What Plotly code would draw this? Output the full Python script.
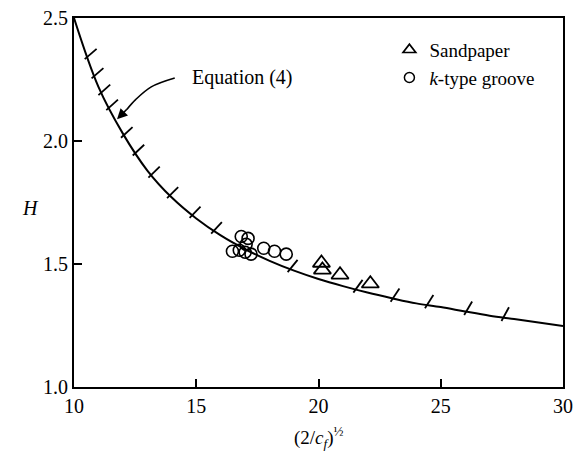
import numpy as np
import plotly.graph_objects as go

# Equation (4) curve
curve_x = [10, 11, 12, 13, 14, 15, 16, 17, 18, 19, 20, 21, 22, 23, 24, 25, 26, 27, 28, 29, 30]
curve_H = [2.50, 2.22, 2.03, 1.88, 1.77, 1.685, 1.616, 1.56, 1.513, 1.473, 1.439,
           1.41, 1.384, 1.361, 1.34, 1.325, 1.307, 1.29, 1.276, 1.262, 1.248]

# hatch marks along the curve (x positions)
hatch_x = [10.56, 10.84, 11.12, 11.44, 12.04, 12.52, 13.16, 13.92, 14.84, 15.72,
           18.84, 21.52, 23.04, 24.44, 26.04, 27.56]

# Sandpaper (triangles)
sand_x = [20.12, 20.16, 20.88, 22.12]
sand_H = [1.504, 1.476, 1.456, 1.420]

# k-type groove (circles)
groove_x = [16.84, 17.12, 17.04, 16.48, 16.76, 17.00, 17.24, 17.76, 18.20, 18.68]
groove_H = [1.612, 1.604, 1.580, 1.552, 1.556, 1.548, 1.540, 1.564, 1.552, 1.540]

x_ticks = [10, 15, 20, 25, 30]
y_ticks = [1.0, 1.5, 2.0, 2.5]

W, Hh = 580, 458
L, R, T, B = 74, 7, 12, 71
pw, ph = W - L - R, Hh - T - B
xr, yr = [10, 30], [1.0, 2.5]
sx = pw / (xr[1] - xr[0])
sy = ph / (yr[1] - yr[0])

FONT = "Liberation Serif"
FS = 20
fig = go.Figure()

fig.add_trace(go.Scatter(x=curve_x, y=curve_H, mode="lines",
                         line=dict(color="black", width=2, shape="spline"),
                         showlegend=False, hoverinfo="skip"))

# hatches
hx, hy = [], []
for x0 in hatch_x:
    y0 = float(np.interp(x0, curve_x, curve_H))
    ang = np.radians(np.interp(x0, [10, 28], [40, 62]))
    Lpx = 16
    back = 0.25
    dxp, dyp = np.cos(ang) * Lpx, np.sin(ang) * Lpx
    hx += [x0 - back * dxp / sx, x0 + (1 - back) * dxp / sx, None]
    hy += [y0 - back * dyp / sy, y0 + (1 - back) * dyp / sy, None]
fig.add_trace(go.Scatter(x=hx, y=hy, mode="lines", line=dict(color="black", width=1.8),
                         showlegend=False, hoverinfo="skip"))

fig.add_trace(go.Scatter(x=groove_x, y=groove_H, mode="markers",
                         marker=dict(symbol="circle-open", size=12, color="black",
                                     line=dict(width=1.6)),
                         showlegend=False))
fig.add_trace(go.Scatter(x=sand_x, y=sand_H, mode="markers",
                         marker=dict(symbol="triangle-up-open", size=15, color="black",
                                     line=dict(width=1.8)),
                         showlegend=False))

# legend entries
fig.add_trace(go.Scatter(x=[None], y=[None], mode="markers", name="Sandpaper",
                         marker=dict(symbol="triangle-up-open", size=11, color="black",
                                     line=dict(width=1.7))))
fig.add_trace(go.Scatter(x=[None], y=[None], mode="markers", name="<i>k</i>-type groove",
                         marker=dict(symbol="circle-open", size=10, color="black",
                                     line=dict(width=1.5))))

# curved arrow pointing at the curve
arr_x = [14.12, 13.16, 12.52, 12.16]
arr_y = [2.256, 2.22, 2.168, 2.128]
fig.add_trace(go.Scatter(x=arr_x, y=arr_y, mode="lines",
                         line=dict(color="black", width=1.6, shape="spline"),
                         showlegend=False, hoverinfo="skip"))
fig.add_annotation(x=11.76, y=2.088, ax=12.22, ay=2.135, xref="x", yref="y",
                   axref="x", ayref="y", text="", showarrow=True, arrowhead=2,
                   arrowsize=1.3, arrowwidth=1.6, arrowcolor="black")
fig.add_annotation(x=14.75, y=2.258, xref="x", yref="y", text="Equation (4)",
                   showarrow=False, xanchor="left", yanchor="middle",
                   font=dict(family=FONT, size=FS, color="black"))

# axis titles
fig.add_annotation(x=(19 - L) / pw, y=(Hh - B - 205) / ph, xref="paper", yref="paper",
                   text="<i>H</i>", showarrow=False,
                   font=dict(family=FONT, size=FS, color="black"))
fig.add_annotation(x=0.5, y=-(438 - (Hh - B)) / ph, xref="paper", yref="paper",
                   text="(2/<i>c<sub>f</sub></i>)<sup>½</sup>", showarrow=False,
                   yanchor="middle",
                   font=dict(family=FONT, size=19, color="black"))

axis_common = dict(showgrid=False, zeroline=False, showline=True, linecolor="black",
                   linewidth=2, mirror=True, ticks="inside", ticklen=8, tickwidth=1.5,
                   tickcolor="black", ticklabeloverflow="allow",
                   tickfont=dict(family=FONT, size=FS, color="black"))
fig.update_xaxes(range=xr, tickvals=x_ticks, ticktext=[str(v) for v in x_ticks],
                 **axis_common)
fig.update_yaxes(range=yr, tickvals=y_ticks, ticktext=[f"{v:.1f}" for v in y_ticks],
                 **axis_common)

fig.update_layout(width=W, height=Hh, margin=dict(l=L, r=R, t=T, b=B),
                  paper_bgcolor="white", plot_bgcolor="white",
                  legend=dict(x=0.645, y=0.965, xanchor="left", yanchor="top",
                              bgcolor="rgba(0,0,0,0)", tracegroupgap=0,
                              font=dict(family=FONT, size=19, color="black")),
                  font=dict(family=FONT, color="black"))

fig.write_html("out.html")
